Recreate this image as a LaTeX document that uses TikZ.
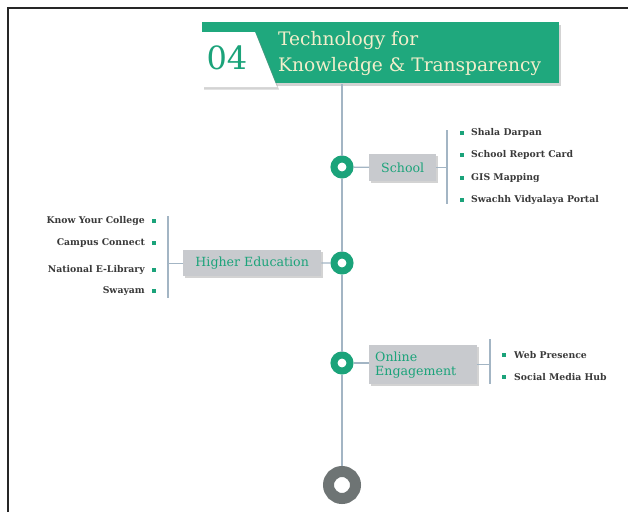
\documentclass[tikz,border=0pt]{standalone}
\usepackage{fontspec}
\setmainfont{DejaVu Serif}
\usetikzlibrary{shadows}
\definecolor{grn}{HTML}{1BA37A}
\definecolor{bannergrn}{HTML}{1FA87D}
\definecolor{spinec}{HTML}{A3B5C4}
\definecolor{boxgray}{HTML}{C8CACE}
\definecolor{itemc}{HTML}{3A3A3A}
\definecolor{cream}{HTML}{F2EECB}
\definecolor{endgray}{HTML}{6E7474}
\tikzset{
  spine/.style={draw=spinec, line width=1.8pt},
  link/.style={draw=spinec, line width=1.3pt},
  ring/.style={circle, draw=grn, fill=white, line width=7pt, minimum size=16pt, inner sep=0pt},
  endring/.style={circle, draw=endgray, fill=white, line width=11pt, minimum size=27pt, inner sep=0pt},
  topic/.style={rectangle, fill=boxgray, text=grn, font=\fontsize{12.6}{14}\selectfont, inner sep=0pt,
     drop shadow={shadow xshift=1.5pt, shadow yshift=-1.8pt, opacity=0.35}},
  bul/.style={rectangle, fill=grn, minimum size=4.2pt, inner sep=0pt},
  item/.style={text=itemc, font=\bfseries\fontsize{9.3}{10}\selectfont, inner sep=0pt},
}
\begin{document}
\begin{tikzpicture}[x=1pt,y=-1pt]
\useasboundingbox (0,0) rectangle (628,512);
% frame
\draw[line width=2.5pt, color=black!85] (8,512) -- (8,8) -- (628,8);
% banner
\node[rectangle, fill=bannergrn, minimum width=357pt, minimum height=61pt, inner sep=0pt, anchor=north west,
  drop shadow={shadow xshift=2pt, shadow yshift=-2.5pt, opacity=0.35}] (banner) at (202,22) {};
\fill[white, drop shadow={shadow xshift=2pt, shadow yshift=-2.5pt, opacity=0.35}] (202,32) -- (255,32) -- (277,87) -- (202,87) -- cycle;
\node[text=grn, font=\fontsize{32}{32}\selectfont, inner sep=0pt] (num) at (227,58) {04};
\node[text=cream, font=\fontsize{18.6}{26}\selectfont, align=left, anchor=west, inner sep=0pt] (title) at (278,53)
  {Technology for\\Knowledge \& Transparency};
% spine
\coordinate (top) at (342,84);
\node[ring] (c1) at (342,167) {};
\node[ring] (c2) at (342,263) {};
\node[ring] (c3) at (342,363) {};
\node[endring] (c4) at (342,485) {};
\draw[spine] (top) -- (c1);
\draw[spine] (c1) -- (c2);
\draw[spine] (c2) -- (c3);
\draw[spine] (c3) -- (c4);
% School
\node[topic, minimum width=67pt, minimum height=27pt, anchor=north west] (school) at (369,154) {School};
\draw[link] (c1) -- (school);
\coordinate (sbt) at (447,130);
\coordinate (sbb) at (447,204);
\draw[link] (sbt) -- (sbb);
\draw[link] (school.east) -- (school.east -| sbt);
\foreach \y/\t [count=\i] in {133/Shala Darpan, 155/School Report Card, 178/GIS Mapping, 200/Swachh Vidyalaya Portal}{
  \node[bul] (sb\i) at (462,\y) {};
  \node[item, anchor=west] (st\i) at (471,\y) {\t};
}
% Higher Education
\node[topic, minimum width=138pt, minimum height=26pt, anchor=north west] (higher) at (183,250) {Higher Education};
\draw[link] (higher) -- (c2);
\coordinate (hbt) at (168,216);
\coordinate (hbb) at (168,298);
\draw[link] (hbt) -- (hbb);
\draw[link] (higher.west) -- (higher.west -| hbt);
\foreach \y/\t [count=\i] in {221/Know Your College, 243/Campus Connect, 270/National E-Library, 291/Swayam}{
  \node[bul] (hb\i) at (154,\y) {};
  \node[item, anchor=east] (ht\i) at (145,\y) {\t};
}
% Online Engagement
\node[topic, minimum width=108pt, minimum height=39pt, anchor=north west, align=left, text width=96pt,
  inner xsep=6pt, font=\fontsize{12.6}{14}\selectfont] (online) at (369,345) {Online\\Engagement};
\draw[link] (c3) -- (online.west |- c3);
\coordinate (obt) at (490,339);
\coordinate (obb) at (490,384);
\draw[link] (obt) -- (obb);
\draw[link] (online.east) -- (online.east -| obt);
\foreach \y/\t [count=\i] in {355/Web Presence, 377/Social Media Hub}{
  \node[bul] (ob\i) at (504,\y) {};
  \node[item, anchor=west] (ot\i) at (514,\y) {\t};
}
\end{tikzpicture}
\end{document}
